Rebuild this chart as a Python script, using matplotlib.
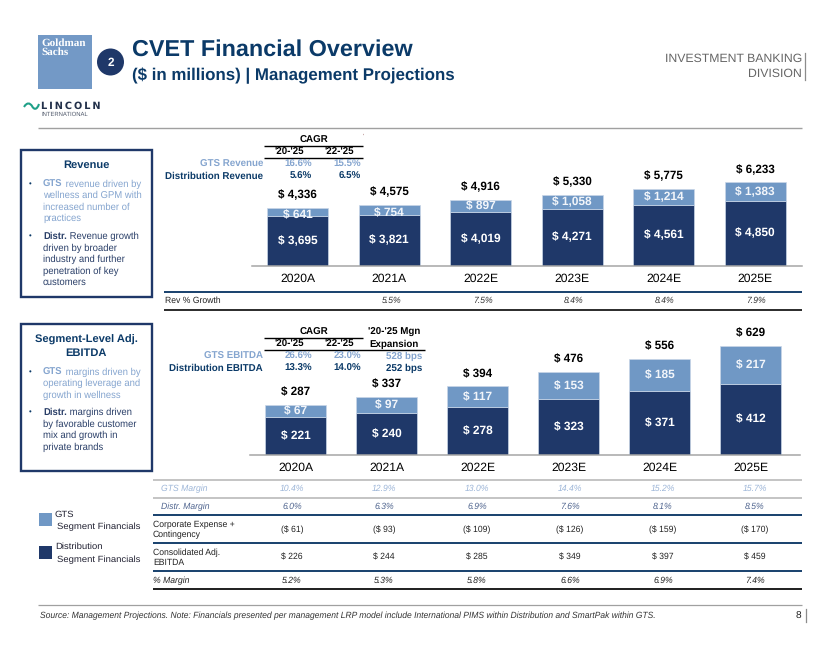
import matplotlib
matplotlib.use("Agg")
import matplotlib.pyplot as plt
from matplotlib.patches import Circle, PathPatch, Rectangle
from matplotlib.path import Path

plt.rcParams["font.family"] = ["Liberation Sans", "DejaVu Sans"]
plt.rcParams["text.hinting"] = "no_hinting"

W, H = 840, 649
DARK = "#1F3869"
LIGHT = "#7098C5"
SOFT = "#85A5CF"
TITLE = "#0B3A68"
RULE = "#17406D"
GRAY = "#B4B4B4"

YEARS = ["2020A", "2021A", "2022E", "2023E", "2024E", "2025E"]

REV_DIST = [3695, 3821, 4019, 4271, 4561, 4850]
REV_GTS = [641, 754, 897, 1058, 1214, 1383]
REV_TOTAL = [4336, 4575, 4916, 5330, 5775, 6233]
REV_GROWTH = ["", "5.5%", "7.5%", "8.4%", "8.4%", "7.9%"]

EBITDA_DIST = [221, 240, 278, 323, 371, 412]
EBITDA_GTS = [67, 97, 117, 153, 185, 217]
EBITDA_TOTAL = [287, 337, 394, 476, 556, 629]

GTS_MARGIN = ["10.4%", "12.9%", "13.0%", "14.4%", "15.2%", "15.7%"]
DIST_MARGIN = ["6.0%", "6.3%", "6.9%", "7.6%", "8.1%", "8.5%"]
CORP_EXP = ["($ 61)", "($ 93)", "($ 109)", "($ 126)", "($ 159)", "($ 170)"]
CONS_EBITDA = ["$ 226", "$ 244", "$ 285", "$ 349", "$ 397", "$ 459"]
PCT_MARGIN = ["5.2%", "5.3%", "5.8%", "6.6%", "6.9%", "7.4%"]


def money(v):
    return f"$ {v:,}"


def add_bars(fig, box, first_x, step, px_per_unit, dist, gts, total):
    # box is left, top, right, bottom in pixels
    left, top, right, bottom = box
    ax = fig.add_axes([left / W, 1 - bottom / H, (right - left) / W, (bottom - top) / H])
    ax.patch.set_alpha(0)
    ax.set_xlim((left - first_x) / step, (right - first_x) / step)
    ax.set_ylim(0, (bottom - top) / px_per_unit)
    xs = list(range(len(YEARS)))
    width = 61 / step
    ax.bar(xs, dist, width=width, color=DARK, edgecolor="#C9D6E8", linewidth=0.5)
    ax.bar(xs, gts, width=width, bottom=dist, color=LIGHT, edgecolor="#C9D6E8", linewidth=0.5)
    for i in xs:
        ax.text(i, dist[i] / 2, money(dist[i]), color="white", weight="bold",
                fontsize=8.6, ha="center", va="center")
        # labels of very thin segments sit a bit low and spill over the dark bar
        shift = -2.0 if gts[i] * px_per_unit < 11 else 0
        ax.annotate(money(gts[i]), (i, dist[i] + gts[i] / 2), xytext=(0, shift),
                    textcoords="offset points", color="#F2F5FA", weight="bold",
                    fontsize=8.6, ha="center", va="center")
        ax.annotate(money(total[i]), (i, dist[i] + gts[i]), xytext=(0, 9.3),
                    textcoords="offset points", weight="bold", fontsize=8.4,
                    ha="center", va="center", color="black")
    for side in ["top", "left", "right"]:
        ax.spines[side].set_visible(False)
    ax.spines["bottom"].set_color("#A6A6A6")
    ax.spines["bottom"].set_linewidth(1.1)
    ax.set_yticks([])
    ax.set_xticks(xs)
    ax.set_xticklabels(YEARS, fontsize=8.7)
    ax.tick_params(axis="x", length=0, pad=5.5, colors="black")
    return ax


def rule(ax, x0, x1, y, color, lw):
    ax.plot([x0, x1], [y, y], color=color, lw=lw, solid_capstyle="butt")


def side_box(ax, y0, y1, heading, heading_ys, bullets):
    ax.add_patch(Rectangle((21, y0), 131, y1 - y0, fill=False, edgecolor=DARK, lw=1.7))
    for line, y in zip(heading, heading_ys):
        ax.text(86, y, line, fontsize=8.0, weight="bold", color=TITLE, ha="center", va="center")
    for y, first, rest, color in bullets:
        ax.text(30, y, "•", fontsize=5.5, color=TITLE, ha="center", va="center")
        lead = ax.text(43, y + 2.8, first[0], fontsize=6.85, weight="bold", color=color, va="baseline")
        # x follows the bold word, y stays on the same baseline
        ax.annotate(first[1], xy=(1, y + 2.8), xycoords=(lead, "data"), fontsize=6.85,
                    color=color, va="baseline")
        for n, line in enumerate(rest):
            ax.text(43, y + 2.8 + (n + 1) * 11.4, line, fontsize=6.85, color=color, va="baseline")


def main():
    fig = plt.figure(figsize=(W / 100, H / 100), dpi=100)
    bg = fig.add_axes([0, 0, 1, 1])
    bg.set_xlim(0, W)
    bg.set_ylim(H, 0)
    bg.axis("off")

    # header
    bg.add_patch(Rectangle((38, 35), 54, 54, color="#7399C6", lw=0))
    bg.text(41, 38, "Goldman\nSachs", family=["Liberation Serif"], weight="bold", fontsize=8.0,
            color="white", va="top", linespacing=0.85)
    bg.add_patch(Circle((110.5, 62), 13.5, color=DARK, lw=0))
    bg.text(110.5, 62.5, "2", color="white", weight="bold", fontsize=8.5, ha="center", va="center")
    bg.text(132, 50, "CVET Financial Overview", color=TITLE, weight="bold", fontsize=16.85,
            va="center")
    bg.text(132, 75.5, "($ in millions) | Management Projections", color=TITLE, weight="bold",
            fontsize=12.15, va="center")
    bg.text(802, 59, "INVESTMENT BANKING", color="#666666", fontsize=8.85, ha="right", va="center")
    bg.text(802, 74, "DIVISION", color="#666666", fontsize=8.85, ha="right", va="center")
    bg.plot([805, 805], [53, 80], color="#8C8C8C", lw=0.9)
    rule(bg, 38, 802, 128, "#A0A0A0", 1)

    # lincoln logo
    wave = Path([(24, 107), (27, 102), (30, 103), (32, 106), (34, 110), (37, 110), (39, 104)],
                [Path.MOVETO, Path.CURVE4, Path.CURVE4, Path.CURVE4, Path.CURVE4, Path.CURVE4,
                 Path.CURVE4])
    bg.add_patch(PathPatch(wave, fill=False, edgecolor="#1FA088", lw=1.5))
    bg.text(41, 106, "L\u2009I\u2009N\u2009C\u2009O\u2009L\u2009N", family=["DejaVu Sans"],
            color="#22304A", weight="bold", fontsize=7, va="center")
    bg.text(41.5, 114.5, "INTERNATIONAL", color="#50596B", fontsize=4.2, va="center")

    # bars
    add_bars(fig, (252, 170, 802, 266), 297.5, 91.5, 0.0134, REV_DIST, REV_GTS, REV_TOTAL)
    add_bars(fig, (250, 320, 800, 455), 295.5, 91.0, 0.1735, EBITDA_DIST, EBITDA_GTS, EBITDA_TOTAL)

    # left boxes
    side_box(bg, 150, 297, ["Revenue"], [165.5], [
        (184, ("GTS", " revenue driven by"), ["wellness and GPM with", "increased number of", "practices"], SOFT),
        (236.5, ("Distr.", " Revenue growth"), ["driven by broader", "industry and further",
                                               "penetration of key", "customers"], "#2A3F68"),
    ])
    side_box(bg, 324, 471, ["Segment-Level Adj.", "EBITDA"], [339.5, 353], [
        (372, ("GTS", " margins driven by"), ["operating leverage and", "growth in wellness"], SOFT),
        (412.5, ("Distr.", " margins driven"), ["by favorable customer", "mix and growth in",
                                               "private brands"], "#2A3F68"),
    ])

    # CAGR block, revenue
    bold = dict(fontsize=7.0, weight="bold", va="center")
    bg.text(314, 140, "CAGR", ha="center", color="black", **bold)
    bg.text(363, 136, "'", ha="center", color="#884444", fontsize=4, va="center")
    rule(bg, 264, 363, 146, "black", 1)
    bg.text(289.5, 152, "'20-'25", ha="center", color="black", **bold)
    bg.text(339, 152, "'22-'25", ha="center", color="black", **bold)
    rule(bg, 264, 363, 158, "black", 1)
    bg.text(263, 164, "GTS Revenue", ha="right", color=SOFT, **bold)
    bg.text(312, 164, "16.6%", ha="right", color=SOFT, **bold)
    bg.text(361, 164, "15.5%", ha="right", color=SOFT, **bold)
    bg.text(263, 176, "Distribution Revenue", ha="right", color=TITLE, **bold)
    bg.text(312, 176, "5.6%", ha="right", color=TITLE, **bold)
    bg.text(361, 176, "6.5%", ha="right", color=TITLE, **bold)

    # CAGR block, ebitda
    bg.text(314, 332, "CAGR", ha="center", color="black", **bold)
    bg.text(394, 332, "'20-'25 Mgn", ha="center", color="black", **bold)
    rule(bg, 264, 363, 338, "black", 1)
    bg.text(289.5, 344, "'20-'25", ha="center", color="black", **bold)
    bg.text(339, 344, "'22-'25", ha="center", color="black", **bold)
    bg.text(394, 344, "Expansion", ha="center", color="black", **bold)
    rule(bg, 264, 425, 350, "black", 1)
    bg.text(263, 356, "GTS EBITDA", ha="right", color=SOFT, **bold)
    bg.text(312, 356, "26.6%", ha="right", color=SOFT, **bold)
    bg.text(361, 356, "23.0%", ha="right", color=SOFT, **bold)
    bg.text(422, 356, "528 bps", ha="right", color=SOFT, **bold)
    bg.text(263, 368, "Distribution EBITDA", ha="right", color=TITLE, **bold)
    bg.text(312, 368, "13.3%", ha="right", color=TITLE, **bold)
    bg.text(361, 368, "14.0%", ha="right", color=TITLE, **bold)
    bg.text(422, 368, "252 bps", ha="right", color=TITLE, **bold)

    # revenue growth row
    rule(bg, 164, 802, 292, RULE, 1.4)
    rule(bg, 164, 802, 310, "#2B2B2B", 1.4)
    bg.text(165, 301, "Rev % Growth", fontsize=6.2, color="#222222", va="center")
    for x, v in zip([300, 392, 483, 574, 665, 756], REV_GROWTH):
        bg.text(x, 301, v, fontsize=6.2, style="italic", color="#333333", ha="center", va="center")

    # table under ebitda
    for y, c, lw in [(480, GRAY, 1.1), (498, GRAY, 1.1), (515, RULE, 1.4), (543, RULE, 1.4),
                     (571, RULE, 1.4), (589, "#1E1E1E", 1.4)]:
        rule(bg, 153, 802, y, c, lw)
    cols = [292, 384, 477, 570, 663, 755]
    small = dict(fontsize=6.2, va="center")
    bg.text(161, 489, "GTS Margin", style="italic", color="#9DB6D8", **small)
    bg.text(161, 506.5, "Distr. Margin", style="italic", color="#50658F", **small)
    bg.text(153, 525, "Corporate Expense +", color="#222222", **small)
    bg.text(153, 535, "Contingency", color="#222222", **small)
    bg.text(153, 552.5, "Consolidated Adj.", color="#222222", **small)
    bg.text(153, 563, "EBITDA", color="#222222", **small)
    bg.text(153, 580.5, "% Margin", style="italic", color="#222222", **small)
    for i, x in enumerate(cols):
        bg.text(x, 489, GTS_MARGIN[i], style="italic", color="#9DB6D8", ha="center", **small)
        bg.text(x, 506.5, DIST_MARGIN[i], style="italic", color="#50658F", ha="center", **small)
        bg.text(x, 530, CORP_EXP[i], color="#222222", ha="center", **small)
        bg.text(x, 557.5, CONS_EBITDA[i], color="#222222", ha="center", **small)
        bg.text(x, 580.5, PCT_MARGIN[i], style="italic", color="#222222", ha="center", **small)

    # legend
    bg.add_patch(Rectangle((39, 513), 13, 13, color=LIGHT, lw=0))
    bg.add_patch(Rectangle((39, 546), 13, 13, color=DARK, lw=0))
    leg = dict(fontsize=6.8, color="#222233", va="center")
    bg.text(55, 515, "GTS", **leg)
    bg.text(57, 527, "Segment Financials", **leg)
    bg.text(55, 547, "Distribution", **leg)
    bg.text(57, 559.5, "Segment Financials", **leg)

    # footer
    rule(bg, 38, 802, 605, "#A0A0A0", 0.9)
    bg.text(40, 616, "Source: Management Projections. Note: Financials presented per management LRP model "
            "include International PIMS within Distribution and SmartPak within GTS.",
            fontsize=6.13, style="italic", color="#333333", va="center")
    bg.text(801, 616, "8", fontsize=7.3, color="#222222", ha="right", va="center")
    bg.plot([806, 806], [609, 622], color="#8C8C8C", lw=0.9)

    fig.savefig("out.png", dpi=100)


if __name__ == "__main__":
    main()
